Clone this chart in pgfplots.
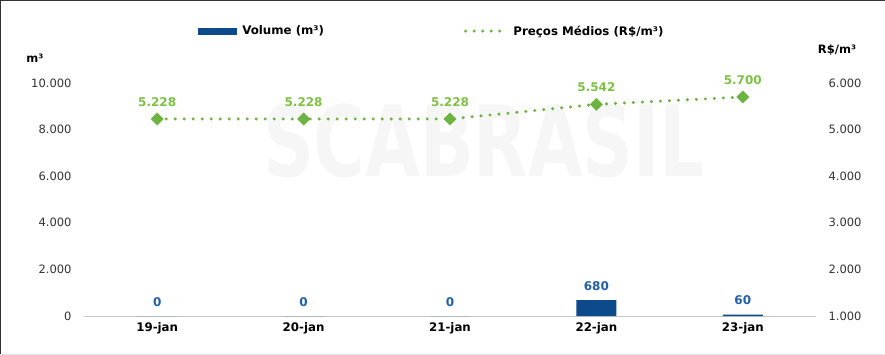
\documentclass[border=0pt]{standalone}
\usepackage{fontspec}
\setmainfont{DejaVu Sans}
\usepackage{pgfplots}
\pgfplotsset{compat=1.18}
\definecolor{barblue}{HTML}{0D4A8C}
\definecolor{lblblue}{HTML}{1F5EA8}
\definecolor{linegreen}{HTML}{6DB33F}
\definecolor{lblgreen}{HTML}{7CC242}
\definecolor{tickgray}{HTML}{333333}
\begin{document}
\begin{tikzpicture}[x=1pt,y=1pt]
% frame
\path[use as bounding box] (0,0) rectangle (885,354);
\draw[gray!20, line width=1pt] (885,354) -- (885,0) -- (0,0);
\draw[black!80, line width=1.2pt] (0,0) -- (0,354) -- (885,354);
% watermark
\node[text=black!3.5, font=\bfseries\fontsize{98}{98}\selectfont, xscale=0.72] at (484,213) {SCABRASIL};
% left axis: bars
\begin{axis}[
  at={(84pt,38pt)}, anchor=south west,
  scale only axis, width=732pt, height=233pt,
  xmin=-0.5, xmax=4.5, ymin=0, ymax=10000,
  xtick={0,1,2,3,4},
  xticklabels={19-jan,20-jan,21-jan,22-jan,23-jan},
  ytick={0,2000,4000,6000,8000,10000},
  scaled y ticks=false,
  axis line style={draw=none}, tick style={draw=none},
  major tick length=0pt,
  /pgf/number format/.cd, 1000 sep={.}, fixed, precision=0, assume math mode=true,
  /pgfplots/.cd,
  yticklabel style={font=\fontsize{11.5}{13}\selectfont, text=tickgray, xshift=-9pt},
  xticklabel style={font=\bfseries\fontsize{11.8}{13}\selectfont, text=black, yshift=-3pt},
  axis y line*=left, axis x line*=bottom,
  clip=false,
]
\draw[gray!45, line width=0.8pt] (axis cs:-0.5,0) -- (axis cs:4.5,0);
\addplot[ybar, bar width=40pt, fill=barblue, draw=none,
  nodes near coords,
  every node near coord/.append style={font=\bfseries\fontsize{12}{14}\selectfont, text=lblblue, yshift=6pt}]
  coordinates {(0,0) (1,0) (2,0) (3,680) (4,60)};
\end{axis}
% right axis: line
\begin{axis}[
  at={(84pt,38pt)}, anchor=south west,
  scale only axis, width=732pt, height=233pt,
  xmin=-0.5, xmax=4.5, ymin=1000, ymax=6000,
  axis x line=none, axis y line*=right,
  ytick={1000,2000,3000,4000,5000,6000},
  scaled y ticks=false,
  axis line style={draw=none}, tick style={draw=none},
  major tick length=0pt,
  /pgf/number format/.cd, 1000 sep={.}, fixed, precision=0, assume math mode=true,
  /pgfplots/.cd,
  yticklabel style={font=\fontsize{11.5}{13}\selectfont, text=tickgray, xshift=9pt},
  clip=false,
  legend columns=2,
  legend style={draw=none, fill=none, at={(0.475,1.223)}, anchor=center,
    font=\bfseries\fontsize{11.8}{13}\selectfont,
    /tikz/every odd column/.append style={column sep=4pt},
    /tikz/every even column/.append style={column sep=138pt},
    nodes={inner sep=2pt}},
]
\addlegendimage{legend image code/.code={\fill[barblue] (0pt,-3pt) rectangle (38pt,3pt);}}
\addlegendentry{Volume (m³)}
\addplot[linegreen, line width=3.4pt, line cap=round, dash pattern=on 0pt off 9pt,
  mark=square*, mark size=4.3pt, mark options={rotate=45, solid, fill=linegreen, draw=linegreen, line width=0.5pt},
  nodes near coords,
  every node near coord/.append style={font=\bfseries\fontsize{12}{14}\selectfont, text=lblgreen, yshift=9pt},
  legend image code/.code={\draw[linegreen, line width=3.4pt, line cap=round, dash pattern=on 0pt off 8.5pt] (2pt,0pt) -- (42pt,0pt);}]
  coordinates {(0,5228) (1,5228) (2,5228) (3,5542) (4,5700)};
\addlegendentry{Preços Médios (R\$/m³)}
\end{axis}
% axis titles
\node[font=\bfseries\fontsize{11.5}{13}\selectfont] at (35,296) {m³};
\node[font=\bfseries\fontsize{11.5}{13}\selectfont] at (837,304) {R\$/m³};
\end{tikzpicture}
\end{document}
